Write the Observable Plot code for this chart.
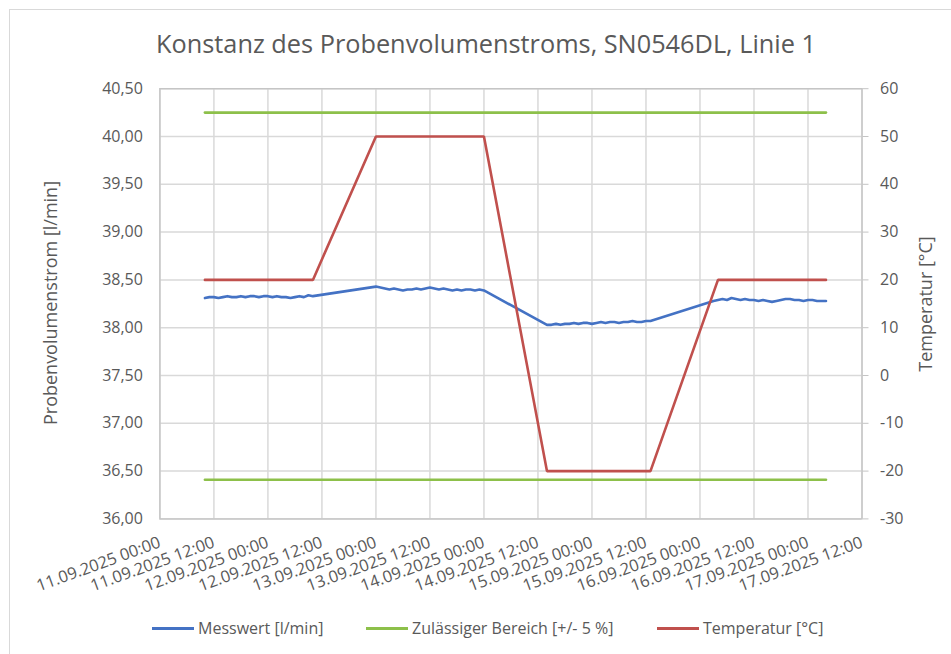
<!DOCTYPE html>
<html>
<head>
<meta charset="utf-8">
<script src="https://cdn.jsdelivr.net/npm/d3@7"></script>
<script src="https://cdn.jsdelivr.net/npm/@observablehq/plot@0.6"></script>
<style>
body{margin:0;background:#fff;font-family:"Open Sans",sans-serif;}
#wrap{position:relative;width:951px;height:654px;overflow:hidden;background:#fff;}
#frame{position:absolute;left:9px;top:9px;width:1000px;height:1000px;border-left:1px solid #d9d9d9;border-top:1px solid #d9d9d9;}
#title{position:absolute;top:26px;left:0;width:972px;text-align:center;font-size:25.3px;color:#595959;white-space:nowrap;}
#chart{position:absolute;left:0;top:68px;}
.ytitle{position:absolute;transform:translate(-50%,-50%) rotate(-90deg);font-size:18px;color:#595959;white-space:nowrap;}
.leg{position:absolute;top:617px;font-size:16px;line-height:22px;color:#595959;display:flex;align-items:center;white-space:nowrap;}
.sw{display:inline-block;width:42px;height:3px;margin-right:4px;}
</style>
</head>
<body>
<div id="wrap">
  <div id="frame"></div>
  <div id="title">Konstanz des Probenvolumenstroms, SN0546DL, Linie 1</div>
  <div id="chart"></div>
  <div class="ytitle" style="left:50px;top:303px;">Probenvolumenstrom [l/min]</div>
  <div class="ytitle" style="left:925px;top:304px;">Temperatur [°C]</div>
  <div id="legend"></div>
</div>
<script>
// ---- Data ----
const xTickLabels = ["11.09.2025 00:00","11.09.2025 12:00","12.09.2025 00:00","12.09.2025 12:00","13.09.2025 00:00","13.09.2025 12:00","14.09.2025 00:00","14.09.2025 12:00","15.09.2025 00:00","15.09.2025 12:00","16.09.2025 00:00","16.09.2025 12:00","17.09.2025 00:00","17.09.2025 12:00"];
const yTicksLinks = [36, 36.5, 37, 37.5, 38, 38.5, 39, 39.5, 40, 40.5];
const yTicksRechts = [-30, -20, -10, 0, 10, 20, 30, 40, 50, 60];

const messZeit = [
"11.09.2025 10:00","11.09.2025 11:00","11.09.2025 12:00","11.09.2025 13:00","11.09.2025 14:00","11.09.2025 15:00","11.09.2025 16:00","11.09.2025 17:00","11.09.2025 18:00","11.09.2025 19:00","11.09.2025 20:00","11.09.2025 21:00","11.09.2025 22:00","11.09.2025 23:00",
"12.09.2025 00:00","12.09.2025 01:00","12.09.2025 02:00","12.09.2025 03:00","12.09.2025 04:00","12.09.2025 05:00","12.09.2025 06:00","12.09.2025 07:00","12.09.2025 08:00","12.09.2025 09:00","12.09.2025 10:00",
"12.09.2025 17:00",
"13.09.2025 00:00","13.09.2025 01:00","13.09.2025 02:00","13.09.2025 03:00","13.09.2025 04:00","13.09.2025 05:00","13.09.2025 06:00","13.09.2025 07:00","13.09.2025 08:00","13.09.2025 09:00","13.09.2025 10:00","13.09.2025 11:00","13.09.2025 12:00","13.09.2025 13:00","13.09.2025 14:00","13.09.2025 15:00","13.09.2025 16:00","13.09.2025 17:00","13.09.2025 18:00","13.09.2025 19:00","13.09.2025 20:00","13.09.2025 21:00","13.09.2025 22:00","13.09.2025 23:00",
"14.09.2025 00:00",
"14.09.2025 14:00","14.09.2025 15:00","14.09.2025 16:00","14.09.2025 17:00","14.09.2025 18:00","14.09.2025 19:00","14.09.2025 20:00","14.09.2025 21:00","14.09.2025 22:00","14.09.2025 23:00",
"15.09.2025 00:00","15.09.2025 01:00","15.09.2025 02:00","15.09.2025 03:00","15.09.2025 04:00","15.09.2025 05:00","15.09.2025 06:00","15.09.2025 07:00","15.09.2025 08:00","15.09.2025 09:00","15.09.2025 10:00","15.09.2025 11:00","15.09.2025 12:00","15.09.2025 13:00",
"16.09.2025 03:00","16.09.2025 04:00","16.09.2025 05:00","16.09.2025 06:00","16.09.2025 07:00","16.09.2025 08:00","16.09.2025 09:00","16.09.2025 10:00","16.09.2025 11:00","16.09.2025 12:00","16.09.2025 13:00","16.09.2025 14:00","16.09.2025 15:00","16.09.2025 16:00","16.09.2025 17:00","16.09.2025 18:00","16.09.2025 19:00","16.09.2025 20:00","16.09.2025 21:00","16.09.2025 22:00","16.09.2025 23:00",
"17.09.2025 00:00","17.09.2025 01:00","17.09.2025 02:00","17.09.2025 03:00","17.09.2025 04:00"
];
const messWerte = [
38.31,38.32,38.32,38.31,38.32,38.33,38.32,38.32,38.33,38.32,38.33,38.33,38.32,38.33,
38.33,38.32,38.33,38.32,38.32,38.31,38.32,38.33,38.32,38.34,38.33,
38.38,
38.43,38.42,38.41,38.40,38.41,38.40,38.39,38.40,38.40,38.41,38.40,38.41,38.42,38.41,38.40,38.41,38.40,38.39,38.40,38.39,38.40,38.40,38.39,38.40,
38.39,
38.03,38.03,38.04,38.03,38.04,38.04,38.05,38.04,38.05,38.05,
38.04,38.05,38.06,38.05,38.06,38.06,38.05,38.06,38.06,38.07,38.06,38.06,38.07,38.07,
38.28,38.29,38.30,38.29,38.31,38.30,38.29,38.30,38.29,38.29,38.28,38.29,38.28,38.27,38.28,38.29,38.30,38.30,38.29,38.29,38.28,
38.29,38.29,38.28,38.28,38.28
];

const grenzeZeit = ["11.09.2025 10:00","17.09.2025 04:00"];
const grenzeOben = [40.25, 40.25];
const grenzeUnten = [36.41, 36.41];

const tempZeit = ["11.09.2025 10:00","12.09.2025 10:00","13.09.2025 00:00","14.09.2025 00:00","14.09.2025 14:00","15.09.2025 13:00","16.09.2025 04:00","17.09.2025 04:00"];
const tempWerte = [20, 20, 50, 50, -20, -20, 20, 20];

const serien = ["Messwert [l/min]", "Zulässiger Bereich [+/- 5 %]", "Temperatur [°C]"];
const farben = ["#4472C4", "#8DC04A", "#C0504D"];

// ---- Helpers ----
const parse = d3.utcParse("%d.%m.%Y %H:%M");
const xTicks = xTickLabels.map(parse);
const labelMap = new Map(xTicks.map((d, i) => [+d, xTickLabels[i]]));
// secondary axis (temperature) mapped onto primary axis range
const L0 = 36, L1 = 40.5, T0 = -30, T1 = 60;
const toLeft = t => L0 + (t - T0) * (L1 - L0) / (T1 - T0);
const toTemp = v => T0 + (v - L0) * (T1 - T0) / (L1 - L0);

const mess = messZeit.map((z, i) => ({t: parse(z), v: messWerte[i]}));
const oben = grenzeZeit.map((z, i) => ({t: parse(z), v: grenzeOben[i]}));
const unten = grenzeZeit.map((z, i) => ({t: parse(z), v: grenzeUnten[i]}));
const temp = tempZeit.map((z, i) => ({t: parse(z), v: toLeft(tempWerte[i])}));

const W = 951, H = 500;
const chart = Plot.plot({
  width: W, height: H,
  marginLeft: 159.4, marginRight: W - 861.5, marginTop: 20.2, marginBottom: 49.6,
  style: {fontFamily: "Open Sans, sans-serif", fontSize: "16px", color: "#595959", background: "transparent", overflow: "visible"},
  x: {type: "utc", domain: [xTicks[0], xTicks[xTicks.length - 1]]},
  y: {domain: [L0, L1]},
  marks: [
    Plot.gridY(yTicksLinks, {stroke: "#d9d9d9", strokeOpacity: 1, strokeWidth: 1.5}),
    Plot.gridX(xTicks, {stroke: "#d9d9d9", strokeOpacity: 1, strokeWidth: 1.5}),
    Plot.frame({stroke: "#c4c4c4", strokeWidth: 1.3}),
    Plot.axisY(yTicksLinks, {anchor: "left", tickSize: 0, tickPadding: 17, tickFormat: d => d.toFixed(2).replace(".", ","), label: null, fill: "#595959"}),
    Plot.axisY(yTicksRechts.map(toLeft), {anchor: "right", tickSize: 6, tickPadding: 12, tickFormat: d => String(Math.round(toTemp(d))), label: null, stroke: "#c4c4c4", fill: "#595959"}),
    Plot.axisX(xTicks, {anchor: "bottom", tickSize: 0, tickPadding: 23, tickRotate: -20, textAnchor: "end", fontSize: 16.5, tickFormat: d => labelMap.get(+d), label: null, fill: "#595959"}),
    Plot.line(mess, {x: "t", y: "v", stroke: farben[0], strokeWidth: 2.6, strokeLinejoin: "round"}),
    Plot.line(oben, {x: "t", y: "v", stroke: farben[1], strokeWidth: 2.6}),
    Plot.line(unten, {x: "t", y: "v", stroke: farben[1], strokeWidth: 2.6}),
    Plot.line(temp, {x: "t", y: "v", stroke: farben[2], strokeWidth: 2.6, strokeLinejoin: "miter"})
  ]
});
document.getElementById("chart").appendChild(chart);

// ---- Legend ----
const legPos = [152, 366, 657];
const leg = document.getElementById("legend");
serien.forEach((s, i) => {
  const item = document.createElement("div");
  item.className = "leg";
  item.style.left = legPos[i] + "px";
  item.innerHTML = `<span class="sw" style="background:${farben[i]}"></span><span>${s}</span>`;
  leg.appendChild(item);
});
</script>
</body>
</html>
